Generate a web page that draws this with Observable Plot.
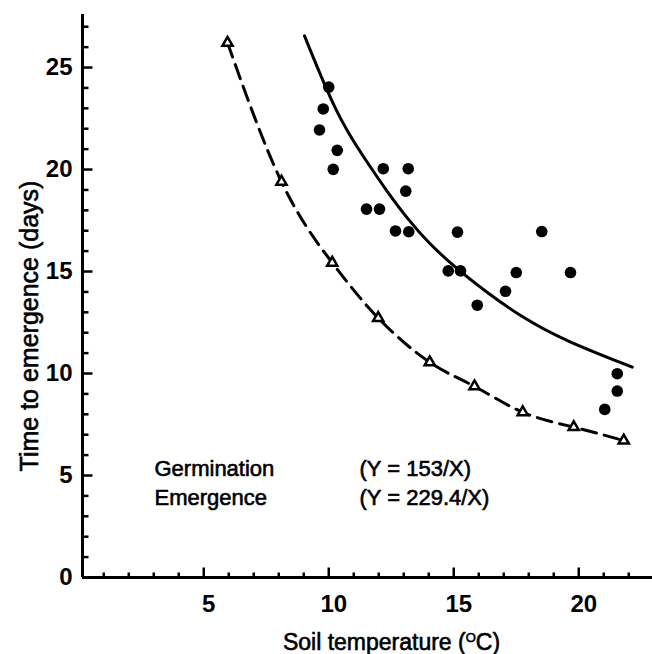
<!DOCTYPE html>
<html>
<head>
<meta charset="utf-8">
<script src="https://cdn.jsdelivr.net/npm/d3@7"></script>
<script src="https://cdn.jsdelivr.net/npm/@observablehq/plot@0.6"></script>
<style>
html, body { margin: 0; padding: 0; background: #fff; }
#chart { width: 652px; height: 654px; overflow: hidden; }
</style>
</head>
<body>
<div id="chart"></div>
<script>
// Germination (filled dots): soil temperature (°C) and days
const germTemp = [10.0, 9.78, 9.63, 10.34, 10.18, 12.18, 13.18, 13.08, 11.51, 12.03, 12.67, 13.2, 15.15, 18.52, 14.78, 15.27, 17.5, 19.67, 17.07, 15.94, 21.54, 21.54, 21.04];
const germDays = [24.04, 22.97, 21.94, 20.94, 20.01, 20.04, 20.04, 18.94, 18.06, 18.06, 16.99, 16.95, 16.93, 16.96, 15.03, 15.03, 14.95, 14.95, 14.03, 13.35, 9.99, 9.14, 8.24];

// Germination fitted curve (solid)
const germCurveTemp = [9.03, 10.34, 11.4, 12.34, 13.27, 14.0, 15.0, 16.34, 17.8, 19.4, 22.14];
const germCurveDays = [26.55, 22.6, 20.6, 18.9, 17.4, 16.4, 15.25, 13.95, 12.7, 11.63, 10.31];

// Emergence (open triangles, dashed curve)
const emTemp = [5.95, 8.11, 10.14, 11.98, 14.04, 15.83, 17.76, 19.8, 21.8];
const emDays = [26.21, 19.4, 15.43, 12.72, 10.55, 9.37, 8.1, 7.37, 6.71];

// Axes
const xDomain = [0.15, 22.95];
const yDomain = [0, 27.6];
const xMajorTicks = [5, 10, 15, 20];
const xMinorTicks = [1, 2, 3, 4, 6, 7, 8, 9, 11, 12, 13, 14, 16, 17, 18, 19, 21, 22];
const yMajorTicks = [0, 5, 10, 15, 20, 25];
const yMinorTicks = [1, 2, 3, 4, 6, 7, 8, 9, 11, 12, 13, 14, 16, 17, 18, 19, 21, 22, 23, 24, 26, 27];

// Texts
const xTitle = "Soil temperature (OC)";
const yTitle = "Time to emergence (days)";
const legendNames = ["Germination", "Emergence"];
const legendEquations = ["(Y = 153/X)", "(Y = 229.4/X)"];

const germ = germTemp.map((t, i) => ({t, d: germDays[i]}));
const germCurve = germCurveTemp.map((t, i) => ({t, d: germCurveDays[i]}));
const em = emTemp.map((t, i) => ({t, d: emDays[i]}));

const FONT = "'Liberation Sans', Arial, Helvetica, sans-serif";
const heavy = {fill: "#000", stroke: "#000", strokeWidth: 0.6};

// plain straight tick shape for the vector mark (points "up" before rotation)
const tickShape = {draw(context, l) { context.moveTo(0, 0); context.lineTo(0, -l); }};
const tickStyle = {anchor: "start", shape: tickShape, stroke: "#000", strokeWidth: 2.5, strokeLinecap: "butt"};

const chart = Plot.plot({
  width: 652,
  height: 654,
  marginLeft: 82,
  marginRight: 0,
  marginTop: 14,
  marginBottom: 77,
  x: {domain: xDomain},
  y: {domain: yDomain},
  style: {fontFamily: FONT, background: "#fff", color: "#000"},
  marks: [
    // axis lines
    Plot.ruleY([yDomain[0]], {stroke: "#000", strokeWidth: 3}),
    Plot.ruleX([xDomain[0]], {stroke: "#000", strokeWidth: 3}),
    // inward ticks (vectors anchored on the frame edges)
    Plot.vector(yMinorTicks, {y: d => d, frameAnchor: "left", rotate: 90, length: 6, ...tickStyle}),
    Plot.vector(yMajorTicks.slice(1), {y: d => d, frameAnchor: "left", rotate: 90, length: 10, ...tickStyle}),
    Plot.vector(xMinorTicks, {x: d => d, frameAnchor: "bottom", rotate: 0, length: 5, ...tickStyle}),
    Plot.vector(xMajorTicks, {x: d => d, frameAnchor: "bottom", rotate: 0, length: 10, ...tickStyle}),
    // tick labels
    Plot.axisY({ticks: yMajorTicks, anchor: "left", tickSize: 0, tickPadding: 10, fontSize: 24, fontWeight: "bold", label: null}),
    Plot.axisX({ticks: xMajorTicks, anchor: "bottom", tickSize: 0, tickPadding: 17, dx: 5, fontSize: 24, fontWeight: "bold", label: null}),
    // axis titles
    Plot.text([xTitle], {frameAnchor: "bottom", dx: 24, dy: 56, lineAnchor: "top", textAnchor: "middle", fontSize: 23, ...heavy}),
    Plot.text([yTitle], {frameAnchor: "left", rotate: -90, dx: -62, dy: 30, lineAnchor: "top", textAnchor: "middle", fontSize: 25, ...heavy}),
    // legend text
    Plot.text([legendNames.join("\n")], {frameAnchor: "bottom-left", dx: 72, dy: -123, lineAnchor: "top", textAnchor: "start", lineHeight: 1.35, fontSize: 22, ...heavy}),
    Plot.text([legendEquations.join("\n")], {frameAnchor: "bottom-left", dx: 277, dy: -123, lineAnchor: "top", textAnchor: "start", lineHeight: 1.35, fontSize: 22, letterSpacing: 1.5, ...heavy}),
    // curves
    Plot.line(germCurve, {x: "t", y: "d", curve: "basis", stroke: "#000", strokeWidth: 3}),
    Plot.line(em, {x: "t", y: "d", curve: "natural", stroke: "#000", strokeWidth: 3, strokeDasharray: "15,8"}),
    // points
    Plot.dot(germ, {x: "t", y: "d", r: 5.8, fill: "#000", stroke: "none"}),
    Plot.dot(em, {x: "t", y: "d", symbol: "triangle", r: 3.8, fill: "#fff", stroke: "#000", strokeWidth: 2.5})
  ]
});

document.getElementById("chart").appendChild(chart);

// superscript "O" in the x-axis title
d3.select(chart).selectAll("text")
  .filter(function () { return this.textContent === xTitle; })
  .each(function () {
    const t = d3.select(this);
    t.text(null);
    t.append("tspan").text("Soil temperature (");
    t.append("tspan").attr("dy", -8).attr("font-size", 13).text("O");
    t.append("tspan").attr("dy", 8).text("C)");
  });
</script>
</body>
</html>
